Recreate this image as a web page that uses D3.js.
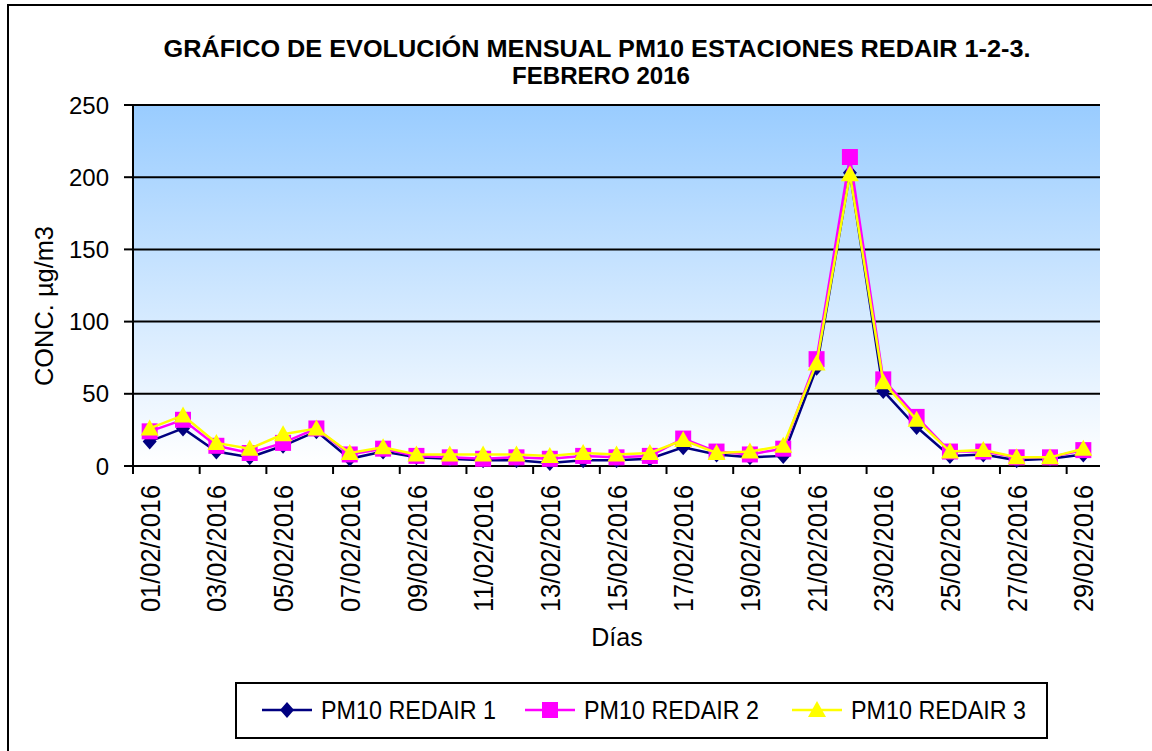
<!DOCTYPE html>
<html>
<head>
<meta charset="utf-8">
<script src="https://cdn.jsdelivr.net/npm/d3@7"></script>
<style>
  body { margin: 0; background: #fff; }
  text { font-family: Arial, "Liberation Sans", sans-serif; fill: #000; }
</style>
</head>
<body>
<script>
const w = 1152
const h = 751

// Days of February 2016 (category axis)
const days = ["01/02/2016","02/02/2016","03/02/2016","04/02/2016","05/02/2016","06/02/2016","07/02/2016",
  "08/02/2016","09/02/2016","10/02/2016","11/02/2016","12/02/2016","13/02/2016","14/02/2016",
  "15/02/2016","16/02/2016","17/02/2016","18/02/2016","19/02/2016","20/02/2016","21/02/2016",
  "22/02/2016","23/02/2016","24/02/2016","25/02/2016","26/02/2016","27/02/2016","28/02/2016","29/02/2016"]

// PM10 values per station (µg/m3)
const redair1 = [17,26,10,6,14,24,5,10,6,5,4,4,2,4,4,5,13,8,6,7,68,203,52,27,7,8,4,5,8]
const redair2 = [24,32,14,9,16,26,8,12,7,6,5,6,5,7,6,7,19,10,8,12,74,214,60,34,10,10,6,6,11]
const redair3 = [26,35,16,12,22,26,9,13,8,8,8,8,7,9,8,9,18,9,10,14,71,202,58,32,10,11,6,6,12]

const seriesNames = ["PM10 REDAIR  1", "PM10 REDAIR  2", "PM10 REDAIR  3"]
const yTicks = [0, 50, 100, 150, 200, 250]

const series = [
  {name: seriesNames[0], values: redair1, color: "#000080", marker: "diamond"},
  {name: seriesNames[1], values: redair2, color: "#FF00FF", marker: "square"},
  {name: seriesNames[2], values: redair3, color: "#FFFF00", marker: "triangle"}
]

const plot = {left: 133, right: 1100, top: 105, bottom: 466}

const svg = d3.select("body").append("svg")
  .attr("width", w)
  .attr("height", h)

// outer chart border
svg.append("rect")
  .attr("x", 8).attr("y", 5)
  .attr("width", w).attr("height", h)
  .attr("fill", "none")
  .attr("stroke", "#000")
  .attr("stroke-width", 2)

// plot background gradient
const grad = svg.append("defs").append("linearGradient")
  .attr("id", "bg").attr("x1", 0).attr("y1", 0).attr("x2", 0).attr("y2", 1)
grad.append("stop").attr("offset", "0%").attr("stop-color", "#99CCFF")
grad.append("stop").attr("offset", "100%").attr("stop-color", "#FFFFFF")

svg.append("rect")
  .attr("x", plot.left).attr("y", plot.top)
  .attr("width", plot.right - plot.left).attr("height", plot.bottom - plot.top)
  .attr("fill", "url(#bg)")

const x = d3.scaleBand().domain(days).range([plot.left, plot.right]).padding(0)
const y = d3.scaleLinear().domain([0, 250]).range([plot.bottom, plot.top])

// gridlines
svg.append("g").selectAll("line")
  .data(yTicks.filter(d => d > 0))
  .enter().append("line")
  .attr("x1", plot.left).attr("x2", plot.right)
  .attr("y1", d => y(d)).attr("y2", d => y(d))
  .attr("stroke", "#000").attr("stroke-width", 2)

// y axis
const yAxis = svg.append("g")
yAxis.append("line")
  .attr("x1", plot.left).attr("x2", plot.left)
  .attr("y1", plot.top).attr("y2", plot.bottom)
  .attr("stroke", "#000").attr("stroke-width", 2)
yAxis.selectAll(".tk").data(yTicks).enter().append("line")
  .attr("x1", plot.left - 9).attr("x2", plot.left)
  .attr("y1", d => y(d)).attr("y2", d => y(d))
  .attr("stroke", "#000").attr("stroke-width", 2)
yAxis.selectAll("text").data(yTicks).enter().append("text")
  .attr("x", 109).attr("y", d => y(d))
  .attr("dy", "0.36em")
  .attr("text-anchor", "end")
  .style("font-size", "24px")
  .text(d => d)

// x axis: ticks and labels every second day
const evenDays = days.filter((d, i) => i % 2 === 0)
const xAxis = svg.append("g")
xAxis.append("line")
  .attr("x1", plot.left).attr("x2", plot.right)
  .attr("y1", plot.bottom).attr("y2", plot.bottom)
  .attr("stroke", "#000").attr("stroke-width", 2)
xAxis.selectAll(".tk").data(evenDays).enter().append("line")
  .attr("x1", d => x(d)).attr("x2", d => x(d))
  .attr("y1", plot.bottom).attr("y2", plot.bottom + 8)
  .attr("stroke", "#000").attr("stroke-width", 2)
xAxis.selectAll("text").data(evenDays).enter().append("text")
  .attr("transform", d => `translate(${x(d) + x.bandwidth() / 2}, 485) rotate(-90)`)
  .attr("dy", "0.36em")
  .attr("text-anchor", "end")
  .attr("textLength", 127)
  .attr("lengthAdjust", "spacingAndGlyphs")
  .style("font-size", "28px")
  .text(d => d)

// axis titles
svg.append("text")
  .attr("transform", "translate(44, 306) rotate(-90)")
  .attr("dy", "0.36em")
  .attr("text-anchor", "middle")
  .attr("textLength", 160)
  .attr("lengthAdjust", "spacingAndGlyphs")
  .style("font-size", "26px")
  .text("CONC.  µg/m3")

svg.append("text")
  .attr("x", 617).attr("y", 637)
  .attr("dy", "0.36em")
  .attr("text-anchor", "middle")
  .style("font-size", "25px")
  .text("Días")

// title
svg.append("text")
  .attr("x", 597).attr("y", 57)
  .attr("text-anchor", "middle")
  .attr("textLength", 867)
  .attr("lengthAdjust", "spacingAndGlyphs")
  .style("font-size", "24px").style("font-weight", "bold")
  .text("GRÁFICO DE EVOLUCIÓN MENSUAL PM10 ESTACIONES REDAIR 1-2-3.")
svg.append("text")
  .attr("x", 601).attr("y", 84)
  .attr("text-anchor", "middle")
  .attr("textLength", 178)
  .attr("lengthAdjust", "spacingAndGlyphs")
  .style("font-size", "24px").style("font-weight", "bold")
  .text("FEBRERO 2016")

// marker shapes
const markerPath = type => {
  if (type === "diamond") return "M0,-8L7,0L0,8L-7,0Z"
  if (type === "square") return "M-8,-8H8V8H-8Z"
  return "M0,-9L9,7H-9Z"
}

const line = d3.line()
  .x((d, i) => x(days[i]) + x.bandwidth() / 2)
  .y(d => y(d))

series.forEach(s => {
  const g = svg.append("g")
  g.append("path")
    .attr("d", line(s.values))
    .attr("fill", "none")
    .attr("stroke", s.color)
    .attr("stroke-width", 2.5)
  g.selectAll("path.m").data(s.values).enter().append("path")
    .attr("class", "m")
    .attr("transform", (d, i) => `translate(${x(days[i]) + x.bandwidth() / 2}, ${y(d)})`)
    .attr("d", markerPath(s.marker))
    .attr("fill", s.color)
})

// legend
const legend = svg.append("g")
legend.append("rect")
  .attr("x", 236).attr("y", 683)
  .attr("width", 811).attr("height", 55)
  .attr("fill", "#fff")
  .attr("stroke", "#000").attr("stroke-width", 2)

const legendX = [262, 525, 792]
series.forEach((s, i) => {
  const lg = legend.append("g").attr("transform", `translate(${legendX[i]}, 710)`)
  lg.append("line")
    .attr("x1", 0).attr("x2", 50)
    .attr("stroke", s.color).attr("stroke-width", 2.5)
  lg.append("path")
    .attr("transform", "translate(25,0)")
    .attr("d", markerPath(s.marker))
    .attr("fill", s.color)
  lg.append("text")
    .attr("x", 59).attr("y", 0)
    .attr("dy", "0.36em")
    .attr("textLength", 175)
    .attr("lengthAdjust", "spacingAndGlyphs")
    .style("font-size", "25px")
    .text(s.name)
})
</script>
</body>
</html>
